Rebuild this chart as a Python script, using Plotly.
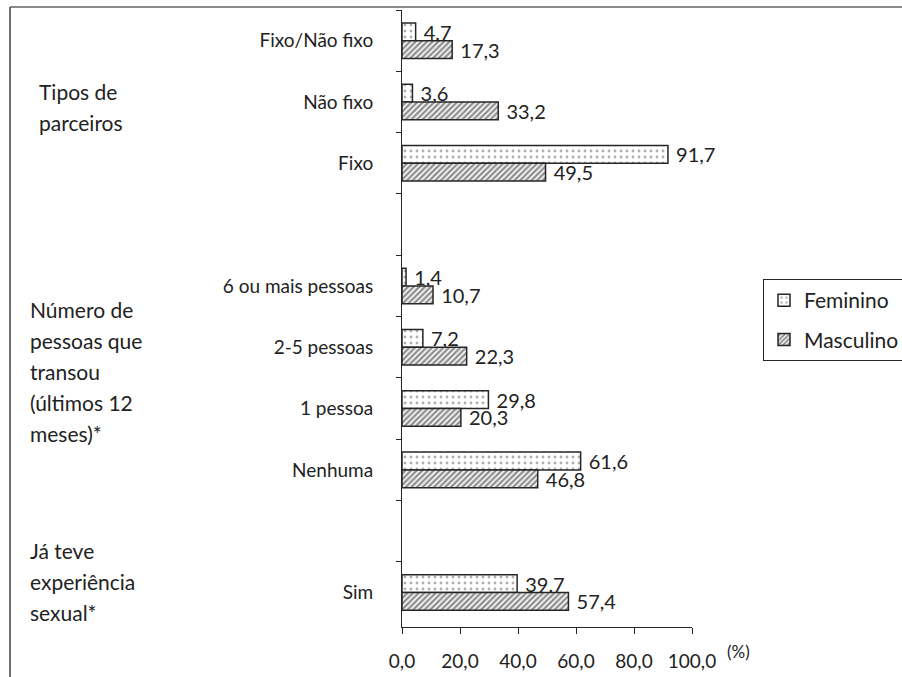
import plotly.graph_objects as go

# Categories from top to bottom; blank entries keep the gaps between groups
categories = ["Fixo/Não fixo", "Não fixo", "Fixo", " ",
              "6 ou mais pessoas", "2-5 pessoas", "1 pessoa", "Nenhuma", "  ",
              "Sim"]
feminino = [4.7, 3.6, 91.7, None, 1.4, 7.2, 29.8, 61.6, None, 39.7]
masculino = [17.3, 33.2, 49.5, None, 10.7, 22.3, 20.3, 46.8, None, 57.4]
x_ticks = [0, 20, 40, 60, 80, 100]

# Group captions shown on the left
group_captions = [
    ["Tipos de", "parceiros"],
    ["Número de", "pessoas que", "transou", "(últimos 12", "meses)*"],
    ["Já teve", "experiência", "sexual*"],
]

FONT = "Lato"
TXT = "#222222"
LINE = "#262626"

W, H = 902, 677
L, R, T, B = 402, 210, 10, 50
plot_w = W - L - R
plot_h = H - T - B


def px_x(px):
    """Figure pixel column -> paper x."""
    return (px - L) / plot_w


def px_y(py):
    """Figure pixel row -> paper y."""
    return (H - B - py) / plot_h


fig = go.Figure()
fig.add_trace(go.Bar(
    name="Feminino", y=categories, x=feminino, orientation="h",
    marker=dict(color="white", line=dict(color=LINE, width=1.5),
                pattern=dict(shape=".", size=6, solidity=0.18,
                             fgcolor="#606060", bgcolor="white")),
    texttemplate=" %{x:.1f}", textposition="outside", constraintext="none",
    textfont=dict(family=FONT, size=20, color=TXT), cliponaxis=False,
    legendgroup="f",
))
fig.add_trace(go.Bar(
    name="Masculino", y=categories, x=masculino, orientation="h",
    marker=dict(color="white", line=dict(color=LINE, width=1.5),
                pattern=dict(shape="/", size=4, solidity=0.6,
                             fgcolor="#1e1e1e", bgcolor="white")),
    texttemplate=" %{x:.1f}", textposition="outside", constraintext="none",
    textfont=dict(family=FONT, size=20, color=TXT), cliponaxis=False,
    legendgroup="m",
))

# Group captions: block centre (category index units) and left edge (px)
caption_centres = [1.08, 5.39, 8.82]
caption_left = [37, 28, 28]
PITCH = 31
for lines, centre, left in zip(group_captions, caption_centres, caption_left):
    n = len(lines)
    for i, text in enumerate(lines):
        fig.add_annotation(
            xref="paper", yref="y", x=px_x(left), y=centre,
            text=text, showarrow=False, xanchor="left", yanchor="middle",
            yshift=-(i - (n - 1) / 2) * PITCH,
            font=dict(family=FONT, size=21, color=TXT),
        )

# Unit label next to the x axis
fig.add_annotation(
    xref="paper", yref="paper", x=px_x(725), y=px_y(651),
    text="(%)", showarrow=False, xanchor="left", yanchor="middle",
    font=dict(family=FONT, size=17, color=TXT),
)

# Frame lines along the top and the left edge of the figure
fig.add_shape(type="line", xref="paper", yref="paper",
              x0=px_x(10), x1=px_x(W + 5), y0=px_y(7), y1=px_y(7),
              line=dict(color="#8a8a8a", width=2))
fig.add_shape(type="line", xref="paper", yref="paper",
              x0=px_x(10), x1=px_x(10), y0=px_y(7), y1=px_y(H + 5),
              line=dict(color="#404040", width=1.5))

fig.update_layout(
    width=W, height=H,
    margin=dict(l=L, r=R, t=T, b=B, autoexpand=False),
    paper_bgcolor="white", plot_bgcolor="white",
    barmode="group", bargap=0.42, bargroupgap=0,
    separators=",.",
    font=dict(family=FONT, color=TXT),
    showlegend=True,
    legend=dict(
        x=px_x(763), y=px_y(279),
        xanchor="left", yanchor="top",
        bordercolor=LINE, borderwidth=1, bgcolor="white",
        font=dict(family=FONT, size=21, color=TXT),
        traceorder="grouped", tracegroupgap=9,
        itemwidth=30,
    ),
    xaxis=dict(
        range=[0, 100], tickvals=x_ticks, tickformat=".1f",
        showgrid=False, zeroline=False,
        showline=True, linecolor=LINE, linewidth=1,
        ticks="outside", ticklen=6, tickcolor=LINE,
        ticklabelstandoff=11,
        tickfont=dict(family=FONT, size=19, color=TXT),
    ),
    yaxis=dict(
        type="category", categoryorder="array", categoryarray=categories,
        autorange="reversed",
        showgrid=False, zeroline=False,
        showline=True, linecolor=LINE, linewidth=1,
        ticks="outside", ticklen=5, tickcolor=LINE, tickson="boundaries",
        ticklabelstandoff=24,
        tickfont=dict(family=FONT, size=19, color=TXT),
    ),
)

fig.write_html("out.html")
